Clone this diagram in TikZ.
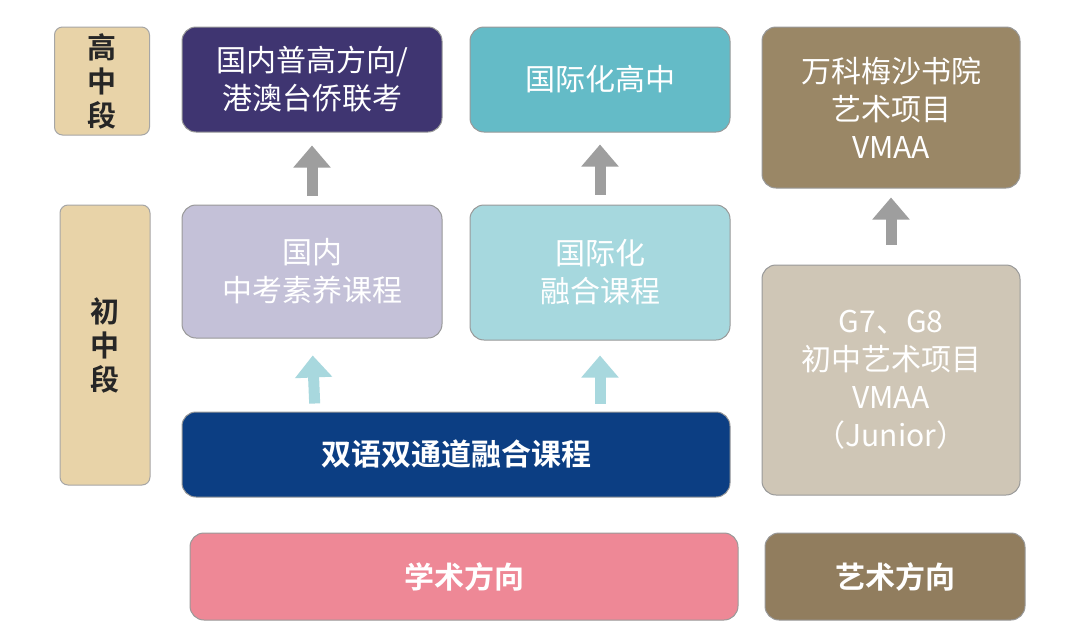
\documentclass[tikz,border=0pt]{standalone}
\usepackage{fontspec}
\setmainfont{Noto Sans CJK SC}
\newfontfamily\cjkb{Noto Sans CJK SC Bold}
\usetikzlibrary{arrows.meta}
\definecolor{tanc}{HTML}{E8D3A8}
\definecolor{purp}{HTML}{3F3571}
\definecolor{teal1}{HTML}{64BBC7}
\definecolor{brn}{HTML}{9A8766}
\definecolor{lav}{HTML}{C4C1D8}
\definecolor{lteal}{HTML}{A6D8DE}
\definecolor{beige}{HTML}{CFC6B6}
\definecolor{navy}{HTML}{0C3E83}
\definecolor{pink}{HTML}{EE8896}
\definecolor{brn2}{HTML}{917D5E}
\definecolor{arrg}{HTML}{9E9E9E}
\definecolor{arrb}{HTML}{A8D8DE}
\begin{document}
\begin{tikzpicture}[x=1pt,y=-1pt,
 box/.style={draw=gray!80,line width=1pt,rounded corners=14pt,align=center,text=white,font=\fontsize{30}{38}\selectfont,inner sep=0pt},
 bbox/.style={box,font=\cjkb\fontsize{30}{36}\selectfont},
 side/.style={box,draw=gray!70,text=black!85,font=\cjkb\fontsize{29}{34}\selectfont,rounded corners=8pt},
 up/.style={line width=11pt,-{Triangle[width=36pt,length=22pt]}}]
\useasboundingbox (0,0) rectangle (1080,635);
\fill[white] (0,0) rectangle (1080,635);
\node[side,fill=tanc,minimum width=95pt,minimum height=108pt] (hs) at (102,81) {高\\中\\段};
\node[side,fill=tanc,minimum width=90pt,minimum height=280pt] (ms) at (105,345) {初\\中\\段};
\node[box,fill=purp,minimum width=260pt,minimum height=105pt] (a1) at (312,79.5) {国内普高方向/\\港澳台侨联考};
\node[box,fill=teal1,minimum width=260pt,minimum height=105pt] (a2) at (600,79.5) {国际化高中};
\node[box,fill=brn,minimum width=258pt,minimum height=161pt] (a3) at (891,107.5) {万科梅沙书院\\艺术项目\\VMAA};
\node[box,fill=lav,minimum width=260pt,minimum height=133pt] (b1) at (312,271.5) {国内\\中考素养课程};
\node[box,fill=lteal,minimum width=260pt,minimum height=135pt] (b2) at (600,272.5) {国际化\\融合课程};
\node[box,fill=beige,minimum width=258pt,minimum height=230pt] (b3) at (891,380) {G7、G8\\初中艺术项目\\VMAA\\（Junior）};
\node[bbox,fill=navy,minimum width=548pt,minimum height=85pt] (c) at (456,454.5) {双语双通道融合课程};
\node[bbox,fill=pink,minimum width=548pt,minimum height=87pt] (d1) at (464,576.5) {学术方向};
\node[bbox,fill=brn2,minimum width=260pt,minimum height=87pt] (d2) at (895,576.5) {艺术方向};
\draw[up,draw=arrg,fill=arrg,shorten <=9pt,shorten >=13pt] (b1.north) -- (a1.south);
\draw[up,draw=arrg,fill=arrg,shorten <=10pt,shorten >=12pt] (b2.north) -- (a2.south);
\draw[up,draw=arrg,fill=arrg,shorten <=20pt,shorten >=9pt] (b3.north) -- (a3.south);
\draw[up,draw=arrb,fill=arrb,shorten <=8pt,shorten >=17pt] ([xshift=3pt]c.north -| b1) -- (b1.south);
\draw[up,draw=arrb,fill=arrb,shorten <=8pt,shorten >=15pt] (c.north -| b2) -- (b2.south);
\end{tikzpicture}
\end{document}
